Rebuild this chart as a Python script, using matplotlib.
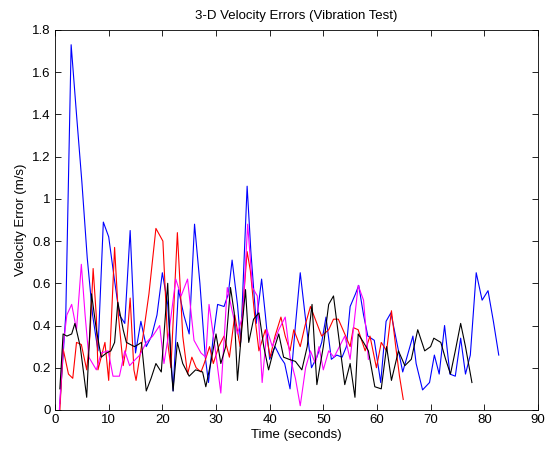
import matplotlib
matplotlib.use('Agg')
import matplotlib.pyplot as plt
from matplotlib.ticker import FormatStrFormatter
from matplotlib import rcParams

rcParams.update({
    'font.family': ['Liberation Sans', 'DejaVu Sans'],
    'font.size': 9.5,
    'xtick.direction': 'in',
    'ytick.direction': 'in',
    'xtick.top': True,
    'ytick.right': True,
})

# time (s) / velocity error (m/s)
blue_t = [0.9, 2.0, 3.0, 4.0, 5.0, 6.0, 7.0, 8.0, 9.0, 10.0, 11.0, 12.0, 13.0, 14.0, 15.0,
          16.0, 17.0, 18.0, 19.0, 20.0, 21.0, 22.0, 23.0, 24.0, 25.0, 26.0, 27.0, 28.0, 28.6,
          29.5, 30.3, 31.5, 32.3, 33.0, 34.0, 34.6, 35.8, 36.5, 37.5, 38.5, 39.2, 40.0, 41.0,
          42.0, 42.8, 43.8, 44.8, 45.7, 46.6, 47.8, 48.8, 49.7, 50.5, 51.5, 52.5, 53.5, 54.3,
          55.0, 56.0, 56.6, 57.5, 58.3, 59.5, 60.7, 61.7, 62.6, 63.7, 64.8, 65.7, 66.7, 67.3,
          68.5, 69.8, 70.7, 71.6, 72.6, 73.6, 74.6, 75.6, 76.5, 77.4, 78.5, 79.6, 80.7, 81.7, 82.7]
blue_v = [0.03, 0.45, 1.73, 1.40, 1.08, 0.72, 0.45, 0.28, 0.89, 0.82, 0.63, 0.45, 0.41, 0.85, 0.27,
          0.42, 0.30, 0.35, 0.45, 0.65, 0.50, 0.09, 0.57, 0.45, 0.36, 0.88, 0.60, 0.25, 0.13,
          0.35, 0.50, 0.49, 0.55, 0.71, 0.50, 0.32, 1.06, 0.75, 0.41, 0.62, 0.45, 0.24, 0.30,
          0.25, 0.22, 0.10, 0.40, 0.65, 0.45, 0.20, 0.25, 0.32, 0.44, 0.24, 0.26, 0.25, 0.30,
          0.49, 0.55, 0.59, 0.45, 0.35, 0.33, 0.13, 0.42, 0.46, 0.32, 0.18, 0.26, 0.35, 0.22,
          0.095, 0.13, 0.26, 0.17, 0.40, 0.17, 0.16, 0.34, 0.17, 0.26, 0.65, 0.52, 0.565, 0.42, 0.26]

red_t = [0.9, 1.5, 2.5, 3.3, 4.0, 4.9, 5.9, 6.5, 7.1, 7.7, 8.0, 9.3, 10.0, 11.1, 11.8, 12.7,
         13.3, 14.0, 14.7, 15.1, 16.4, 17.5, 18.8, 20.1, 21.0, 21.6, 22.8, 23.8, 24.7, 25.5,
         26.3, 27.2, 27.8, 28.8, 29.5, 30.5, 31.5, 32.5, 33.5, 34.5, 35.2, 35.8, 36.4, 37.2,
         38.0, 39.2, 40.1, 41.0, 42.1, 42.9, 43.8, 44.5, 45.7, 46.6, 47.6, 48.5, 49.7, 51.0,
         51.9, 52.8, 54.0, 55.0, 55.6, 56.5, 57.8, 58.7, 59.9, 60.8, 61.8, 62.7, 63.5, 64.2, 64.9]
red_v = [0.0, 0.29, 0.17, 0.15, 0.32, 0.31, 0.19, 0.35, 0.67, 0.44, 0.19, 0.32, 0.14, 0.77, 0.45, 0.21,
         0.30, 0.53, 0.19, 0.14, 0.35, 0.55, 0.86, 0.80, 0.32, 0.20, 0.84, 0.35, 0.17, 0.25,
         0.20, 0.18, 0.22, 0.30, 0.22, 0.30, 0.35, 0.25, 0.45, 0.30, 0.55, 0.75, 0.66, 0.45,
         0.28, 0.38, 0.25, 0.35, 0.44, 0.35, 0.28, 0.38, 0.30, 0.40, 0.49, 0.43, 0.35, 0.38,
         0.43, 0.43, 0.36, 0.30, 0.39, 0.38, 0.28, 0.35, 0.20, 0.32, 0.28, 0.47, 0.30, 0.16, 0.05]

mag_t = [0.8, 1.5, 2.2, 3.1, 4.0, 4.9, 5.6, 6.3, 7.7, 8.6, 9.9, 10.8, 12.0, 13.0, 13.9, 15.0,
         15.8, 17.0, 18.2, 19.5, 20.3, 21.3, 22.5, 23.5, 24.7, 25.9, 27.2, 28.1, 28.7, 29.8,
         30.9, 32.1, 33.0, 34.0, 35.0, 35.9, 36.8, 37.7, 38.6, 39.5, 40.5, 41.7, 42.9, 43.8,
         44.8, 45.7, 46.7, 47.6, 48.5, 49.2, 50.0, 51.0, 52.0, 53.0, 54.0, 55.0, 56.5, 57.5, 58.4]
mag_v = [0.0, 0.30, 0.45, 0.50, 0.38, 0.69, 0.45, 0.25, 0.19, 0.27, 0.28, 0.16, 0.16, 0.28, 0.21, 0.24,
         0.26, 0.32, 0.35, 0.40, 0.22, 0.38, 0.62, 0.54, 0.62, 0.33, 0.27, 0.25, 0.50, 0.30,
         0.08, 0.58, 0.47, 0.36, 0.45, 0.88, 0.58, 0.54, 0.13, 0.38, 0.30, 0.38, 0.44, 0.25,
         0.15, 0.02, 0.20, 0.28, 0.22, 0.30, 0.19, 0.28, 0.25, 0.30, 0.35, 0.24, 0.59, 0.52, 0.24]

blk_t = [0.9, 1.5, 2.2, 3.1, 3.7, 4.7, 5.9, 6.8, 7.7, 8.6, 9.6, 10.4, 11.1, 11.7, 12.7, 13.3,
         14.8, 15.5, 16.1, 17.0, 17.9, 18.8, 19.8, 21.0, 21.6, 22.0, 22.8, 23.8, 25.0, 26.2,
         27.5, 28.1, 29.0, 30.0, 30.9, 31.8, 32.7, 33.4, 34.0, 34.8, 35.5, 36.1, 37.0, 38.0,
         38.9, 39.8, 40.7, 41.7, 42.6, 43.6, 44.8, 46.0, 47.0, 47.9, 48.8, 50.0, 51.0, 51.9,
         52.8, 54.0, 55.0, 55.9, 56.5, 57.5, 58.4, 59.6, 60.8, 61.8, 62.7, 64.0, 65.2, 66.4,
         67.6, 68.9, 70.0, 70.6, 71.9, 72.8, 73.7, 74.6, 75.6, 76.5, 77.7]
blk_v = [0.10, 0.36, 0.35, 0.36, 0.41, 0.30, 0.06, 0.55, 0.38, 0.25, 0.27, 0.28, 0.32, 0.51, 0.38, 0.32,
         0.30, 0.31, 0.32, 0.09, 0.15, 0.22, 0.18, 0.60, 0.22, 0.09, 0.32, 0.22, 0.16, 0.19,
         0.18, 0.11, 0.22, 0.36, 0.22, 0.30, 0.58, 0.46, 0.14, 0.38, 0.57, 0.32, 0.43, 0.46,
         0.30, 0.19, 0.28, 0.36, 0.25, 0.24, 0.23, 0.19, 0.30, 0.50, 0.12, 0.30, 0.50, 0.54,
         0.36, 0.12, 0.22, 0.06, 0.36, 0.32, 0.28, 0.11, 0.10, 0.30, 0.14, 0.28, 0.21, 0.24,
         0.38, 0.28, 0.30, 0.34, 0.32, 0.24, 0.17, 0.28, 0.41, 0.30, 0.13]

fig = plt.figure(figsize=(5.45, 4.54), dpi=100)
ax = fig.add_axes([0.101, 0.097, 0.886, 0.837])

ax.plot(blue_t, blue_v, color=(0, 0, 1), lw=0.8)
ax.plot(red_t, red_v, color=(1, 0, 0), lw=0.8)
ax.plot(mag_t, mag_v, color=(1, 0, 1), lw=0.8)
ax.plot(blk_t, blk_v, color='k', lw=0.8)

ax.set_xlim(0, 90)
ax.set_ylim(0, 1.8)
ax.set_xticks(range(0, 91, 10))
ax.set_yticks([i * 0.2 for i in range(10)])
ax.yaxis.set_major_formatter(FormatStrFormatter('%g'))
ax.tick_params(length=4, width=0.6, pad=3)
for s in ax.spines.values():
    s.set_linewidth(0.6)

ax.set_title('3-D Velocity Errors (Vibration Test)', fontsize=9.5, pad=8)
ax.set_xlabel('Time (seconds)', labelpad=2)
ax.set_ylabel('Velocity Error (m/s)', labelpad=4)

fig.savefig('out.png', dpi=100)
